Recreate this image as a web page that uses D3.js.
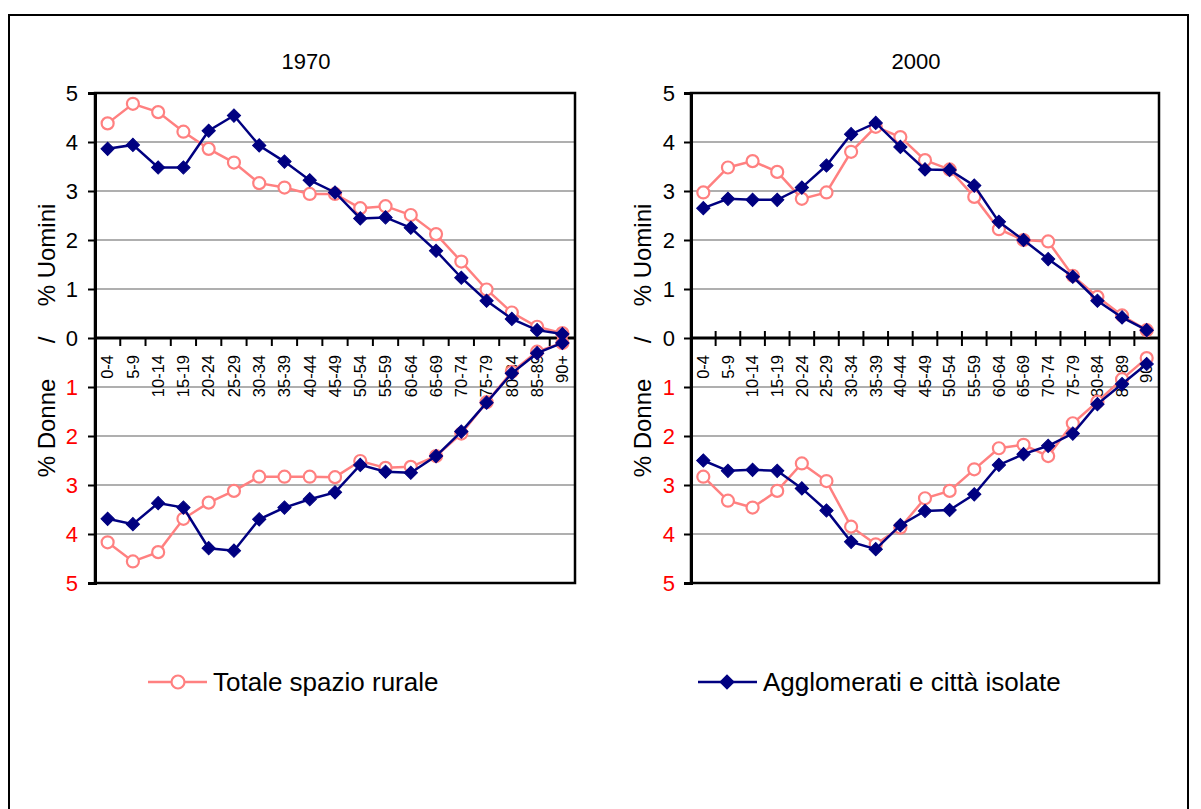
<!DOCTYPE html>
<html>
<head>
<meta charset="utf-8">
<script src="https://cdn.jsdelivr.net/npm/d3@7"></script>
<style>
  body { margin: 0; background: #fff; }
  svg { display: block; font-family: 'Liberation Sans', Arial, sans-serif; }
</style>
</head>
<body>
<div id="chart"></div>
<script>
// Age groups (x categories)
const ageGroups = ['0-4', '5-9', '10-14', '15-19', '20-24', '25-29', '30-34', '35-39', '40-44',
  '45-49', '50-54', '55-59', '60-64', '65-69', '70-74', '75-79', '80-84', '85-89', '90+'];

// 1970, % men (upper half) and % women (lower half)
const rural1970M = [4.38, 4.78, 4.61, 4.21, 3.86, 3.58, 3.16, 3.07, 2.94, 2.94, 2.65, 2.69, 2.51, 2.12, 1.56, 0.99, 0.52, 0.23, 0.10];
const aggl1970M = [3.86, 3.94, 3.48, 3.48, 4.23, 4.54, 3.93, 3.60, 3.22, 2.97, 2.44, 2.46, 2.25, 1.78, 1.23, 0.76, 0.39, 0.16, 0.08];
const rural1970F = [4.17, 4.56, 4.37, 3.69, 3.36, 3.12, 2.83, 2.83, 2.83, 2.84, 2.51, 2.65, 2.63, 2.41, 1.95, 1.31, 0.69, 0.28, 0.10];
const aggl1970F = [3.69, 3.80, 3.37, 3.46, 4.29, 4.34, 3.70, 3.46, 3.29, 3.15, 2.59, 2.73, 2.75, 2.41, 1.91, 1.32, 0.72, 0.31, 0.10];

// 2000
const rural2000M = [2.97, 3.48, 3.61, 3.39, 2.84, 2.97, 3.80, 4.31, 4.10, 3.63, 3.44, 2.88, 2.22, 2.00, 1.97, 1.27, 0.84, 0.46, 0.16];
const aggl2000M = [2.65, 2.84, 2.82, 2.82, 3.07, 3.52, 4.16, 4.39, 3.90, 3.44, 3.43, 3.11, 2.37, 2.00, 1.61, 1.25, 0.76, 0.42, 0.16];
const rural2000F = [2.83, 3.32, 3.46, 3.12, 2.56, 2.92, 3.85, 4.21, 3.87, 3.27, 3.12, 2.68, 2.25, 2.18, 2.41, 1.74, 1.30, 0.84, 0.41];
const aggl2000F = [2.50, 2.71, 2.69, 2.71, 3.07, 3.52, 4.16, 4.31, 3.82, 3.53, 3.51, 3.19, 2.59, 2.37, 2.20, 1.95, 1.35, 0.94, 0.53];

// Y ticks: negative = women (drawn below the zero line)
const yTicks = [-5, -4, -3, -2, -1, 0, 1, 2, 3, 4, 5];

const seriesNames = ['Totale spazio rurale', 'Agglomerati e città isolate'];
const ruralColor = '#FF8080';
const agglColor = '#000080';

const width = 1201;
const height = 809;
const plotTop = 93;
const plotBottom = 583;

const svg = d3.select('#chart')
  .append('svg')
  .attr('width', width)
  .attr('height', height);

// Outer frame
svg.append('rect')
  .attr('x', 9)
  .attr('y', 15)
  .attr('width', 1179)
  .attr('height', 820)
  .attr('fill', 'none')
  .attr('stroke', '#000')
  .attr('stroke-width', 2);

const panels = [
  { title: '1970', titleX: 306, left: 95, right: 575, tickUp: 0, tickDown: 8, labelPad: 10,
    ruralM: rural1970M, ruralF: rural1970F, agglM: aggl1970M, agglF: aggl1970F },
  { title: '2000', titleX: 916, left: 691, right: 1159, tickUp: 7, tickDown: 8, labelPad: 9,
    ruralM: rural2000M, ruralF: rural2000F, agglM: aggl2000M, agglF: aggl2000F }
];

panels.forEach(p => {
  const x = d3.scaleBand()
    .domain(ageGroups)
    .range([p.left, p.right])
    .padding(0);

  const y = d3.scaleLinear()
    .domain([-5, 5])
    .range([plotBottom, plotTop]);

  const cx = d => x(d) + x.bandwidth() / 2;
  const g = svg.append('g');

  // Title
  g.append('text')
    .attr('x', p.titleX)
    .attr('y', 69)
    .attr('text-anchor', 'middle')
    .style('font-size', '22px')
    .style('fill', '#000')
    .text(p.title);

  // Grid lines
  g.append('g')
    .selectAll('line')
    .data(yTicks.filter(t => t !== 0 && Math.abs(t) !== 5))
    .join('line')
    .attr('x1', p.left)
    .attr('x2', p.right)
    .attr('y1', d => y(d))
    .attr('y2', d => y(d))
    .attr('stroke', '#606060')
    .attr('stroke-width', 1.2);

  // Plot frame
  g.append('rect')
    .attr('x', p.left)
    .attr('y', plotTop)
    .attr('width', p.right - p.left)
    .attr('height', plotBottom - plotTop)
    .attr('fill', 'none')
    .attr('stroke', '#000')
    .attr('stroke-width', 2.5);

  // Y axis
  const yAxis = g.append('g')
    .attr('transform', `translate(${p.left},0)`)
    .call(d3.axisLeft(y)
      .tickValues(yTicks)
      .tickSize(7)
      .tickPadding(p.labelPad)
      .tickFormat(d => Math.abs(d)));

  yAxis.select('.domain')
    .attr('stroke', '#000')
    .attr('stroke-width', 3);
  yAxis.selectAll('.tick line')
    .attr('stroke', '#000')
    .attr('stroke-width', 2);
  yAxis.selectAll('.tick text')
    .style('font-size', '22px')
    .style('font-family', "'Liberation Sans', Arial, sans-serif")
    .attr('fill', d => d < 0 ? '#FF0000' : '#000');

  // Zero line with category ticks
  g.append('line')
    .attr('x1', p.left)
    .attr('x2', p.right)
    .attr('y1', y(0))
    .attr('y2', y(0))
    .attr('stroke', '#000')
    .attr('stroke-width', 3);

  const boundaries = d3.range(ageGroups.length + 1).map(i => p.left + i * x.step());
  g.append('g')
    .selectAll('line')
    .data(boundaries)
    .join('line')
    .attr('x1', d => d)
    .attr('x2', d => d)
    .attr('y1', y(0) - p.tickUp)
    .attr('y2', y(0) + p.tickDown)
    .attr('stroke', '#000')
    .attr('stroke-width', 2);

  // Category labels (rotated)
  g.append('g')
    .selectAll('text')
    .data(ageGroups)
    .join('text')
    .attr('transform', d => `translate(${cx(d)},${y(0) + 17}) rotate(-90)`)
    .attr('dy', '0.35em')
    .attr('text-anchor', 'end')
    .style('font-size', '16.5px')
    .style('fill', '#000')
    .text(d => d);

  // Axis titles
  const titleX = p.left - 48;
  const axisTitles = [
    { text: '% Uomini', yPos: 255 },
    { text: '/', yPos: 340 },
    { text: '% Donne', yPos: 428 }
  ];
  g.append('g')
    .selectAll('text')
    .data(axisTitles)
    .join('text')
    .attr('transform', d => `translate(${titleX},${d.yPos}) rotate(-90)`)
    .attr('dy', '0.35em')
    .attr('text-anchor', 'middle')
    .style('font-size', '24px')
    .style('fill', '#000')
    .text(d => d.text);

  // Series
  const line = d3.line()
    .x((d, i) => cx(ageGroups[i]))
    .y(d => y(d));

  const drawRural = (values, sign) => {
    const vals = values.map(v => v * sign);
    g.append('path')
      .datum(vals)
      .attr('d', line)
      .attr('fill', 'none')
      .attr('stroke', ruralColor)
      .attr('stroke-width', 2.5);
    g.append('g')
      .selectAll('circle')
      .data(vals)
      .join('circle')
      .attr('cx', (d, i) => cx(ageGroups[i]))
      .attr('cy', d => y(d))
      .attr('r', 6)
      .attr('fill', '#fff')
      .attr('stroke', ruralColor)
      .attr('stroke-width', 2.2);
  };

  const diamond = d3.symbol(d3.symbolSquare, 88);
  const drawAggl = (values, sign) => {
    const vals = values.map(v => v * sign);
    g.append('path')
      .datum(vals)
      .attr('d', line)
      .attr('fill', 'none')
      .attr('stroke', agglColor)
      .attr('stroke-width', 2.5);
    g.append('g')
      .selectAll('path')
      .data(vals)
      .join('path')
      .attr('d', diamond)
      .attr('transform', (d, i) => `translate(${cx(ageGroups[i])},${y(d)}) rotate(45)`)
      .attr('fill', agglColor)
      .attr('stroke', agglColor)
      .attr('stroke-width', 1);
  };

  drawRural(p.ruralM, 1);
  drawRural(p.ruralF, -1);
  drawAggl(p.agglM, 1);
  drawAggl(p.agglF, -1);
});

// Legend
const legendY = 682;
const legend = svg.append('g');

legend.append('line')
  .attr('x1', 148).attr('x2', 207)
  .attr('y1', legendY).attr('y2', legendY)
  .attr('stroke', ruralColor).attr('stroke-width', 2.5);
legend.append('circle')
  .attr('cx', 178).attr('cy', legendY).attr('r', 6.5)
  .attr('fill', '#fff').attr('stroke', ruralColor).attr('stroke-width', 2.2);
legend.append('text')
  .attr('x', 213).attr('y', legendY).attr('dy', '0.35em')
  .style('font-size', '26px').style('fill', '#000')
  .text(seriesNames[0]);

legend.append('line')
  .attr('x1', 698).attr('x2', 757)
  .attr('y1', legendY).attr('y2', legendY)
  .attr('stroke', agglColor).attr('stroke-width', 2.5);
legend.append('path')
  .attr('d', d3.symbol(d3.symbolSquare, 100))
  .attr('transform', `translate(727,${legendY}) rotate(45)`)
  .attr('fill', agglColor).attr('stroke', agglColor).attr('stroke-width', 1);
legend.append('text')
  .attr('x', 763).attr('y', legendY).attr('dy', '0.35em')
  .style('font-size', '26px').style('fill', '#000')
  .text(seriesNames[1]);
</script>
</body>
</html>
